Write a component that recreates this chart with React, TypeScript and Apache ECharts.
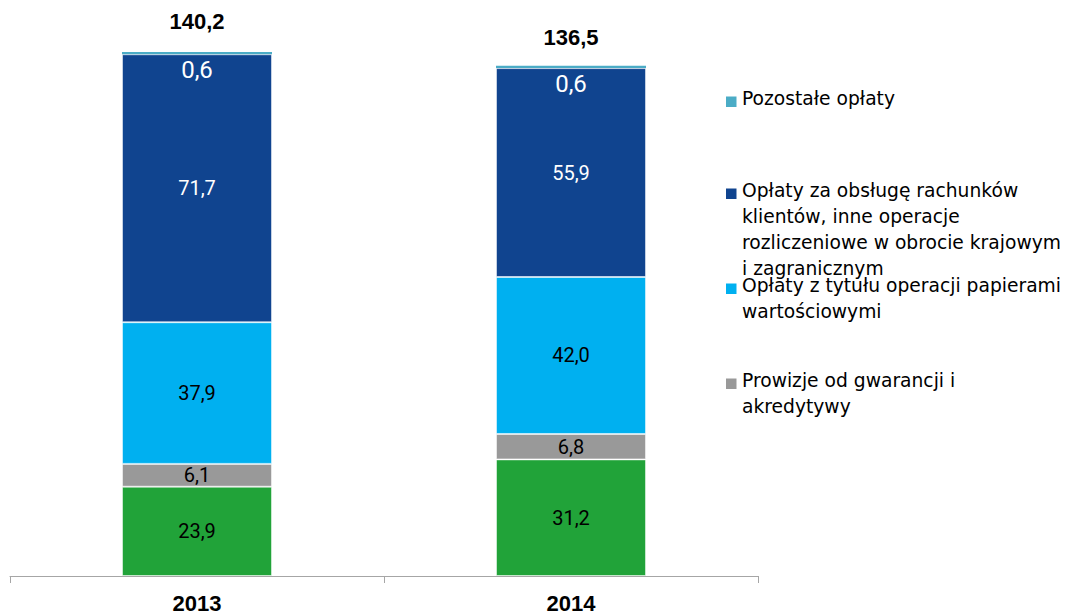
import React, { useEffect, useRef } from "react";
import * as echarts from "echarts";

const years = ["2013", "2014"];
const other = [0.6, 0.6];
const accounts = [71.7, 55.9];
const securities = [37.9, 42.0];
const guarantees = [6.1, 6.8];
const greenSeg = [23.9, 31.2];
const totals = [140.2, 136.5];

const seriesNames = [
  "Prowizje pozostałe",
  "Prowizje od gwarancji i akredytywy",
  "Opłaty z tytułu operacji papierami wartościowymi",
  "Opłaty za obsługę rachunków klientów, inne operacje rozliczeniowe w obrocie krajowym i zagranicznym",
  "Pozostałe opłaty",
];

const legendLines = [
  ["Pozostałe opłaty"],
  [
    "Opłaty za obsługę rachunków",
    "klientów, inne operacje",
    "rozliczeniowe w obrocie krajowym",
    "i zagranicznym",
  ],
  ["Opłaty z tytułu operacji papierami", "wartościowymi"],
  ["Prowizje od gwarancji i", "akredytywy"],
];

const COLORS = {
  green: "#21A339",
  gray: "#999999",
  light: "#00B0F0",
  dark: "#10448F",
  teal: "#4BACC6",
};

const fmt = (v: number) => v.toFixed(1).replace(".", ",");

export default function App() {
  const ref = useRef<HTMLDivElement>(null);
  useEffect(() => {
    if (!ref.current) return;
    const chart = echarts.init(ref.current, null, { renderer: "svg" });
    const segLabel = (color: string, size = 20) => ({
      show: true,
      position: "inside",
      color,
      fontFamily: "Roboto",
      fontSize: size,
      formatter: (p: any) => fmt(p.value),
    });
    const itemStyle = (c: string) => ({
      color: c,
      borderColor: "rgba(255,255,255,0.5)",
      borderWidth: 1,
    });
    const legendColors = [COLORS.teal, COLORS.dark, COLORS.light, COLORS.gray];
    const legendTops = [85, 177, 272, 367];
    const graphic: any[] = [];
    legendLines.forEach((lines, i) => {
      graphic.push({
        type: "rect",
        shape: { x: 726, y: legendTops[i] + 11.5, width: 10.5, height: 10.5 },
        style: { fill: legendColors[i] },
        silent: true,
      });
      graphic.push({
        type: "text",
        x: 742,
        y: legendTops[i],
        style: {
          text: lines.join("\n"),
          fill: "#000",
          font: '18.7px "DejaVu Sans"',
          lineHeight: 26,
          verticalAlign: "top",
          align: "left",
        },
        silent: true,
      });
    });
    chart.setOption({
      animation: false,
      grid: { left: 10, right: 309, top: 15.4, bottom: 38 },
      xAxis: {
        type: "category",
        data: years,
        axisLine: { lineStyle: { color: "#A6A6A6", width: 1 } },
        axisTick: { show: true, length: 7, lineStyle: { color: "#A6A6A6" } },
        axisLabel: {
          margin: 16,
          color: "#000",
          fontFamily: "Liberation Sans",
          fontWeight: "bold",
          fontSize: 22,
        },
      },
      yAxis: { type: "value", min: 0, max: 150, show: false },
      graphic,
      series: [
        {
          name: seriesNames[0],
          type: "bar",
          stack: "a",
          barWidth: 150,
          data: greenSeg,
          itemStyle: itemStyle(COLORS.green),
          label: segLabel("#000"),
        },
        {
          name: seriesNames[1],
          type: "bar",
          stack: "a",
          data: guarantees,
          itemStyle: itemStyle(COLORS.gray),
          label: segLabel("#000"),
        },
        {
          name: seriesNames[2],
          type: "bar",
          stack: "a",
          data: securities,
          itemStyle: itemStyle(COLORS.light),
          label: segLabel("#000"),
        },
        {
          name: seriesNames[3],
          type: "bar",
          stack: "a",
          data: accounts,
          itemStyle: itemStyle(COLORS.dark),
          label: segLabel("#fff"),
        },
        {
          name: seriesNames[4],
          type: "bar",
          stack: "a",
          data: other,
          itemStyle: { color: COLORS.teal },
          label: {
            show: true,
            position: "bottom",
            distance: 4,
            color: "#fff",
            fontFamily: "Roboto",
            fontSize: 24,
            formatter: (p: any) => fmt(p.value),
          },
        },
        {
          name: "Razem",
          type: "scatter",
          symbolSize: 1,
          itemStyle: { color: "rgba(0,0,0,0)", opacity: 1 },
          data: totals.map((v, i) => ({
            value: v,
            label: { distance: i === 0 ? 19 : 17 },
          })),
          label: {
            show: true,
            position: "top",
            color: "#000",
            opacity: 1,
            fontFamily: "Liberation Sans",
            fontWeight: "bold",
            fontSize: 22,
            formatter: (p: any) => fmt(p.value),
          },
          silent: true,
        },
      ],
    });
    return () => chart.dispose();
  }, []);
  return (
    <div
      ref={ref}
      style={{ position: "fixed", left: 0, top: 0, width: 1067, height: 614, background: "#fff" }}
    />
  );
}
